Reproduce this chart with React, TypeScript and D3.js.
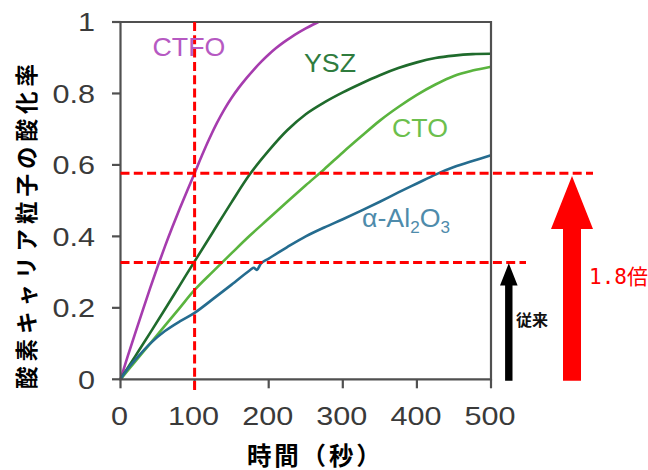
import React from "react";
import * as d3 from "d3";

// ---- data ----
const xTicks = [0, 100, 200, 300, 400, 500];
const yTicks = [0, 0.2, 0.4, 0.6, 0.8, 1];
const yTickLabels = ["0", "0.2", "0.4", "0.6", "0.8", "1"];

const tCTFO = [0, 10, 20, 30, 40, 50, 60, 70, 80, 90, 100, 110, 120, 130, 140, 150, 160, 170, 180, 190, 200, 210, 220, 230, 240, 250, 260, 267];
const vCTFO = [0, 0.066, 0.13, 0.193, 0.255, 0.315, 0.372, 0.426, 0.478, 0.528, 0.577, 0.627, 0.674, 0.717, 0.755, 0.788, 0.817, 0.843, 0.867, 0.889, 0.909, 0.927, 0.943, 0.957, 0.97, 0.982, 0.993, 1.0];

const tYSZ = [0, 20, 40, 60, 80, 100, 125, 150, 175, 200, 225, 250, 275, 300, 325, 350, 375, 400, 425, 450, 475, 500];
const vYSZ = [0, 0.065, 0.13, 0.196, 0.263, 0.33, 0.413, 0.496, 0.575, 0.64, 0.697, 0.742, 0.775, 0.803, 0.828, 0.851, 0.871, 0.887, 0.899, 0.906, 0.91, 0.911];

const tCTO = [0, 20, 40, 60, 80, 100, 125, 150, 175, 200, 225, 250, 275, 300, 325, 350, 375, 400, 425, 450, 475, 500];
const vCTO = [0, 0.05, 0.1, 0.15, 0.2, 0.25, 0.302, 0.353, 0.403, 0.45, 0.497, 0.543, 0.588, 0.635, 0.68, 0.724, 0.762, 0.796, 0.825, 0.849, 0.864, 0.875];

const tAl2O3 = [0, 10, 20, 40, 60, 80, 100, 125, 150, 175, 180, 184, 190, 200, 225, 250, 275, 300, 325, 350, 375, 400, 425, 450, 475, 500];
const vAl2O3 = [0, 0.03, 0.055, 0.1, 0.135, 0.162, 0.186, 0.225, 0.265, 0.306, 0.312, 0.306, 0.325, 0.338, 0.37, 0.4, 0.425, 0.448, 0.472, 0.497, 0.523, 0.548, 0.573, 0.594, 0.611, 0.627];

const refHigh = 0.577;
const refLow = 0.327;
const refTime = 100;

const seriesNames = ["CTFO", "YSZ", "CTO", "α-Al2O3"];
const lineColors = ["#a63cae", "#1f6b2c", "#5ab43e", "#256c8f"];
const labelColors = ["#b659c2", "#2f7c3e", "#6cbf4d", "#4e8bab"];

const xTitle = "時間（秒）";
const yTitle = "酸素キャリア粒子の酸化率";
const ratioLabel = "1.8";
const ratioSuffix = "倍";
const conventionalLabel = "従来";

export default function App() {
  const x = d3.scaleLinear().domain([0, 500]).range([120.5, 491]);
  const y = d3.scaleLinear().domain([0, 1]).range([379.3, 22]);

  const series = [
    { t: tCTFO, v: vCTFO },
    { t: tYSZ, v: vYSZ },
    { t: tCTO, v: vCTO },
    { t: tAl2O3, v: vAl2O3 },
  ];

  const line = d3
    .line<[number, number]>()
    .x((d) => x(d[0]))
    .y((d) => y(d[1]))
    .curve(d3.curveCatmullRom.alpha(0.5));

  const axisColor = "#505050";
  const tickColor = "#3a3a3a";
  const sans = "'Liberation Sans', Arial, sans-serif";
  const cjk = "'Noto Sans CJK JP', sans-serif";
  const red = "#ff0000";

  const x0 = x(0), x1 = x(500), y0 = y(0), y1 = y(1);

  const bx = 508.8;
  const rx = 572;

  return (
    <svg
      width={648}
      height={470}
      style={{ position: "absolute", left: 0, top: 0, background: "#fff" }}
    >
      <rect x={0} y={0} width={648} height={470} fill="#fff" />

      {series.map((s, i) => (
        <path
          key={seriesNames[i]}
          d={line(s.t.map((t, j) => [t, s.v[j]] as [number, number])) || ""}
          fill="none"
          stroke={lineColors[i]}
          strokeWidth={2.6}
          strokeLinejoin="round"
        />
      ))}

      <path
        d={`M${x0},${y1}H${x1}V${y0}H${x0}Z`}
        fill="none"
        stroke={axisColor}
        strokeWidth={2.2}
      />
      {yTicks.map((v) => (
        <line key={"yt" + v} x1={x0 - 8.5} x2={x0} y1={y(v)} y2={y(v)} stroke={axisColor} strokeWidth={2.2} />
      ))}
      {xTicks.map((v) => (
        <line key={"xt" + v} x1={x(v)} x2={x(v)} y1={y0} y2={y0 + 9} stroke={axisColor} strokeWidth={2.2} />
      ))}

      {yTicks.map((v, i) => (
        <text
          key={"yl" + v}
          transform={`translate(${x0 - 25.5},${y(v) + 9.2}) scale(1.2,1)`}
          textAnchor="end"
          fontFamily={sans}
          fontSize={25.5}
          fill={tickColor}
        >
          {yTickLabels[i]}
        </text>
      ))}
      {xTicks.map((v) => (
        <text
          key={"xl" + v}
          transform={`translate(${x(v) - 1},${y0 + 45.5}) scale(1.2,1)`}
          textAnchor="middle"
          fontFamily={sans}
          fontSize={25.5}
          fill={tickColor}
        >
          {String(v)}
        </text>
      ))}

      <line x1={x0} x2={593} y1={y(refHigh)} y2={y(refHigh)} stroke={red} strokeWidth={3} strokeDasharray="9,4.3" />
      <line x1={x0} x2={526} y1={y(refLow)} y2={y(refLow)} stroke={red} strokeWidth={3} strokeDasharray="9,4.3" />
      <line x1={x(refTime)} x2={x(refTime)} y1={y1} y2={393} stroke={red} strokeWidth={3} strokeDasharray="9,4.3" />

      <text transform="translate(152.5,56) scale(1.07,1)" fontFamily={sans} fontSize={25} fill={labelColors[0]}>
        {seriesNames[0]}
      </text>
      <text transform="translate(304,71.5) scale(1.07,1)" fontFamily={sans} fontSize={25} fill={labelColors[1]}>
        {seriesNames[1]}
      </text>
      <text transform="translate(392,136.5) scale(1.07,1)" fontFamily={sans} fontSize={25} fill={labelColors[2]}>
        {seriesNames[2]}
      </text>
      <text transform="translate(362,227) scale(1.07,1)" fontFamily={sans} fontSize={25} fill={labelColors[3]}>
        <tspan>α-Al</tspan>
        <tspan fontSize={16} dy={6}>2</tspan>
        <tspan dy={-6}>O</tspan>
        <tspan fontSize={16} dy={6}>3</tspan>
      </text>

      <polygon
        points={`${bx - 3.7},380.7 ${bx + 3.7},380.7 ${bx + 3.7},285.5 ${bx + 8.8},285.5 ${bx},263.3 ${bx - 8.8},285.5 ${bx - 3.7},285.5`}
        fill="#000"
      />
      <polygon
        points={`${rx - 9},380.7 ${rx + 9},380.7 ${rx + 9},229 ${rx + 21},229 ${rx},176 ${rx - 21},229 ${rx - 9},229`}
        fill={red}
      />

      <text x={516} y={318.5} dominantBaseline="central" fontFamily={cjk} fontWeight={700} fontSize={16} fill="#111">
        {conventionalLabel}
      </text>
      <text x={589} y={283.5} fontSize={21} fill={red}>
        <tspan fontFamily="'DejaVu Sans Mono', monospace" fontSize={21}>{ratioLabel}</tspan>
        <tspan fontFamily={cjk}>{ratioSuffix}</tspan>
      </text>

      <text
        x={247}
        y={454}
        dominantBaseline="central"
        fontFamily={cjk}
        fontWeight={700}
        fontSize={24.5}
        letterSpacing={2.8}
        fill="#000"
      >
        {xTitle}
      </text>
      <text
        transform="translate(25,224) rotate(-90)"
        textAnchor="middle"
        dominantBaseline="central"
        fontFamily={cjk}
        fontWeight={700}
        fontSize={22.5}
        letterSpacing={5}
        fill="#000"
      >
        {yTitle}
      </text>
    </svg>
  );
}
